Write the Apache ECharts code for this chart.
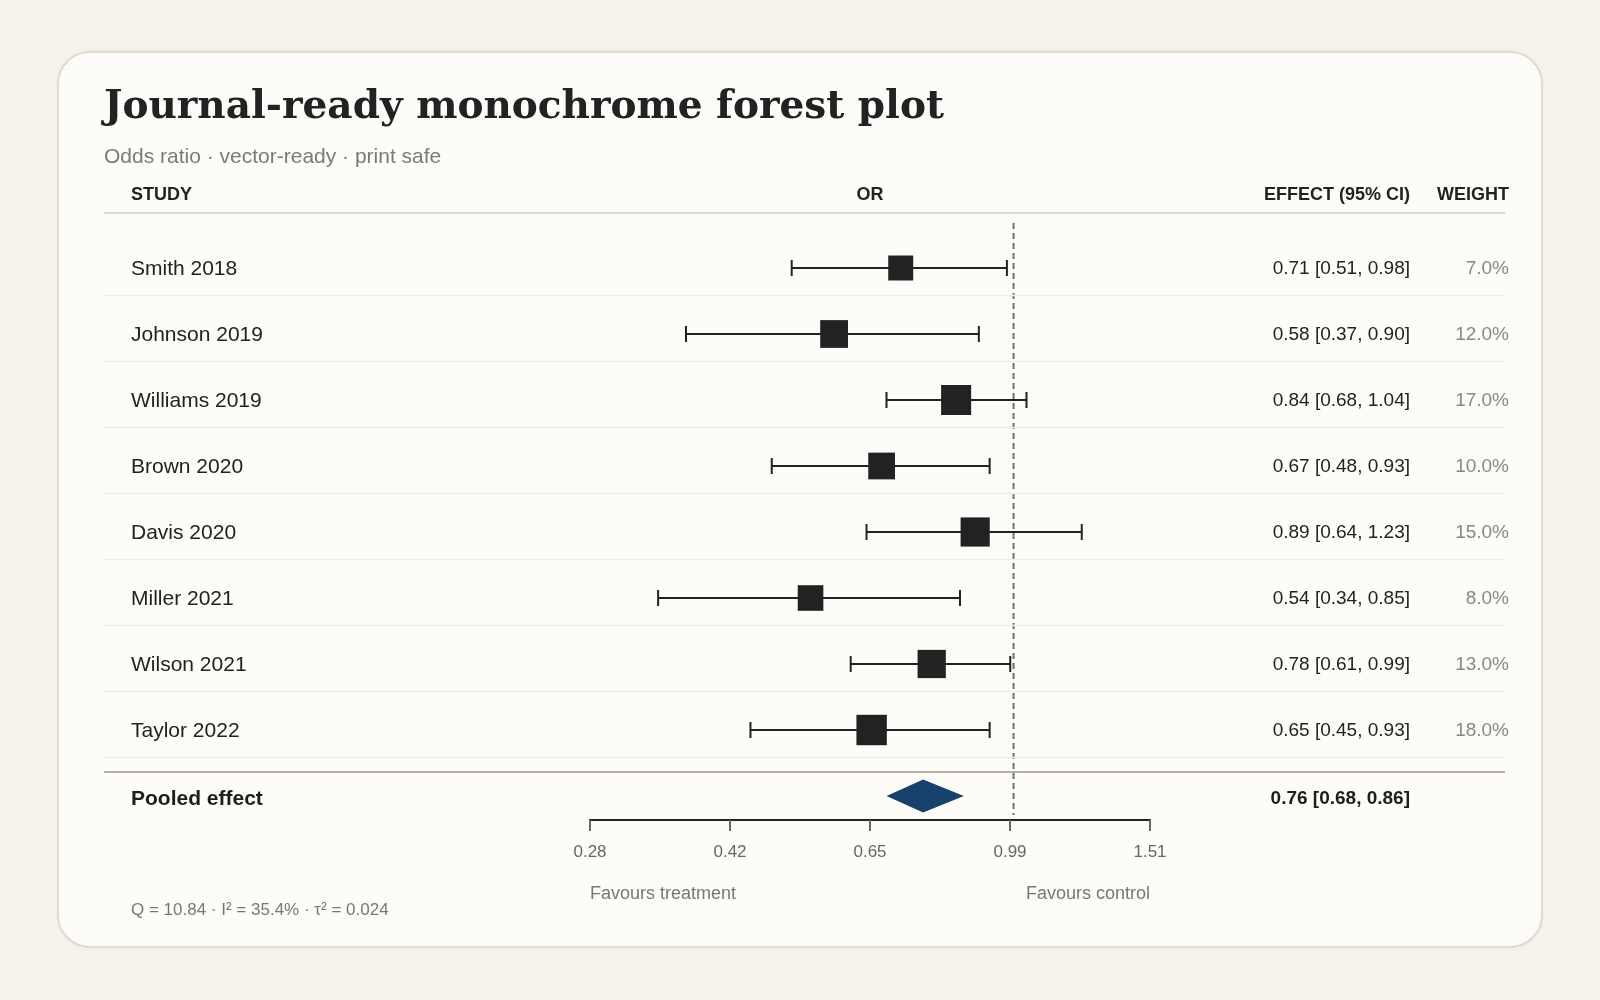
<!DOCTYPE html>
<html lang="en">
<head>
<meta charset="UTF-8">
<title>Forest plot</title>
<script src="https://cdn.jsdelivr.net/npm/echarts@6/dist/echarts.min.js"></script>
<style>
  html, body { margin: 0; padding: 0; background: #f6f3eb; }
  #chart { width: 1600px; height: 1000px; }
</style>
</head>
<body>
<div id="chart"></div>
<script>
// data
var studies = ['Smith 2018', 'Johnson 2019', 'Williams 2019', 'Brown 2020', 'Davis 2020', 'Miller 2021', 'Wilson 2021', 'Taylor 2022'];
var oddsRatio = [0.71, 0.58, 0.84, 0.67, 0.89, 0.54, 0.78, 0.65];
var ciLow = [0.51, 0.37, 0.68, 0.48, 0.64, 0.34, 0.61, 0.45];
var ciHigh = [0.98, 0.90, 1.04, 0.93, 1.23, 0.85, 0.99, 0.93];
var weights = [7.0, 12.0, 17.0, 10.0, 15.0, 8.0, 13.0, 18.0];
var pooled = [0.76, 0.68, 0.86]; // estimate, low, high
var tickLabels = [0.28, 0.42, 0.65, 0.99, 1.51];
var nullValue = 1;
var statsText = 'Q = 10.84 · I² = 35.4% · τ² = 0.024';

// layout
var SANS = '"Liberation Sans", Arial, Helvetica, sans-serif';
var ROW0 = 268, ROWH = 66;
var GRID_TOP = 223, GRID_BOTTOM = 820;
var LEFT = 590, RIGHT = 1150;
var COL_NAME = 131, COL_EFFECT = 1410, COL_WEIGHT = 1509;
var LINE_L = 104, LINE_R = 1505;

// log-scale axis: work in ln(OR)
var xMin = Math.log(0.2765), xMax = Math.log(1.513);
var tickPos = [0, 1, 2, 3, 4].map(function (k) { return xMin + k * (xMax - xMin) / 4; });
var yMin = (GRID_TOP - ROW0) / ROWH;
var yMax = (GRID_BOTTOM - ROW0) / ROWH;

function fmt(v) { return v.toFixed(2); }
function nearestTick(v) {
  var best = tickLabels[0];
  tickLabels.forEach(function (t) {
    if (Math.abs(Math.log(t) - v) < Math.abs(Math.log(best) - v)) best = t;
  });
  return best.toFixed(2);
}

var rows = studies.map(function (s, i) {
  return [i, Math.log(oddsRatio[i]), Math.log(ciLow[i]), Math.log(ciHigh[i]), weights[i]];
});

var chart = echarts.init(document.getElementById('chart'));

var option = {
  animation: false,
  grid: { left: LEFT, top: GRID_TOP, width: RIGHT - LEFT, height: GRID_BOTTOM - GRID_TOP },
  xAxis: {
    type: 'value',
    position: 'bottom',
    min: xMin,
    max: xMax,
    splitLine: { show: false },
    axisLine: { show: true, onZero: false, lineStyle: { color: '#222', width: 2 } },
    axisTick: { show: true, customValues: tickPos, length: 11, lineStyle: { color: '#666', width: 2 } },
    axisLabel: {
      customValues: tickPos,
      margin: 24,
      color: '#666',
      fontSize: 17,
      fontFamily: SANS,
      formatter: function (v) { return nearestTick(v); }
    }
  },
  yAxis: { type: 'value', inverse: true, min: yMin, max: yMax, show: false, axisLine: { onZero: false } },
  graphic: [
    { type: 'rect', z: -10, shape: { x: 58, y: 52, width: 1484, height: 895, r: 32 },
      style: { fill: '#fdfcf9', stroke: '#d9d5ca', lineWidth: 1.5, shadowBlur: 6, shadowColor: 'rgba(0,0,0,0.05)' } },
    { type: 'text', x: 104, y: 108, style: { text: 'Journal-ready monochrome forest plot', font: 'bold 39px "DejaVu Serif", Georgia, serif', fill: '#222', align: 'left', verticalAlign: 'middle' } },
    { type: 'text', x: 104, y: 157, style: { text: 'Odds ratio · vector-ready · print safe', font: '21px ' + SANS, fill: '#7a7a7a', align: 'left', verticalAlign: 'middle' } },
    { type: 'text', x: COL_NAME, y: 195, style: { text: 'STUDY', font: 'bold 18px ' + SANS, fill: '#222', align: 'left', verticalAlign: 'middle' } },
    { type: 'text', x: (LEFT + RIGHT) / 2, y: 195, style: { text: 'OR', font: 'bold 18px ' + SANS, fill: '#222', align: 'center', verticalAlign: 'middle' } },
    { type: 'text', x: COL_EFFECT, y: 195, style: { text: 'EFFECT (95% CI)', font: 'bold 18px ' + SANS, fill: '#222', align: 'right', verticalAlign: 'middle' } },
    { type: 'text', x: COL_WEIGHT, y: 195, style: { text: 'WEIGHT', font: 'bold 18px ' + SANS, fill: '#222', align: 'right', verticalAlign: 'middle' } },
    { type: 'line', shape: { x1: LINE_L, y1: 213, x2: LINE_R, y2: 213 }, style: { stroke: '#dcdad4', lineWidth: 2 } },
    { type: 'line', shape: { x1: LINE_L, y1: 772, x2: LINE_R, y2: 772 }, style: { stroke: '#b3b1aa', lineWidth: 2 } },
    { type: 'text', x: LEFT, y: 894, style: { text: 'Favours treatment', font: '18px ' + SANS, fill: '#777', align: 'left', verticalAlign: 'middle' } },
    { type: 'text', x: RIGHT, y: 894, style: { text: 'Favours control', font: '18px ' + SANS, fill: '#777', align: 'right', verticalAlign: 'middle' } },
    { type: 'text', x: COL_NAME, y: 910, style: { text: statsText, font: '17px ' + SANS, fill: '#777', align: 'left', verticalAlign: 'middle' } }
  ],
  series: [
    {
      // null line at OR = 1
      type: 'line',
      data: [[Math.log(nullValue), yMin], [Math.log(nullValue), (815 - ROW0) / ROWH]],
      symbol: 'none',
      silent: true,
      z: 1,
      lineStyle: { color: '#707070', width: 2, type: [6, 4] }
    },
    {
      type: 'custom',
      name: 'studies',
      data: rows,
      z: 3,
      renderItem: function (params, api) {
        var i = api.value(0);
        var est = api.coord([api.value(1), i]);
        var lo = api.coord([api.value(2), i]);
        var hi = api.coord([api.value(3), i]);
        var w = api.value(4);
        var size = 16 + 3.4 * Math.sqrt(w);
        var y = est[1];
        var cap = 8;
        var ink = '#222';
        return {
          type: 'group',
          children: [
            { type: 'line', shape: { x1: LINE_L, y1: y + 27.5, x2: LINE_R, y2: y + 27.5 }, style: { stroke: '#efede8', lineWidth: 1.5 } },
            { type: 'line', shape: { x1: lo[0], y1: y, x2: hi[0], y2: y }, style: { stroke: ink, lineWidth: 2 } },
            { type: 'line', shape: { x1: lo[0], y1: y - cap, x2: lo[0], y2: y + cap }, style: { stroke: ink, lineWidth: 2 } },
            { type: 'line', shape: { x1: hi[0], y1: y - cap, x2: hi[0], y2: y + cap }, style: { stroke: ink, lineWidth: 2 } },
            { type: 'rect', shape: { x: est[0] - size / 2, y: y - size / 2, width: size, height: size }, style: { fill: ink } },
            { type: 'text', style: { text: studies[i], x: COL_NAME, y: y + 1, font: '21px ' + SANS, fill: '#222', align: 'left', verticalAlign: 'middle' } },
            { type: 'text', style: { text: fmt(oddsRatio[i]) + ' [' + fmt(ciLow[i]) + ', ' + fmt(ciHigh[i]) + ']', x: COL_EFFECT, y: y + 1, font: '19px ' + SANS, fill: '#222', align: 'right', verticalAlign: 'middle' } },
            { type: 'text', style: { text: w.toFixed(1) + '%', x: COL_WEIGHT, y: y + 1, font: '19px ' + SANS, fill: '#888', align: 'right', verticalAlign: 'middle' } }
          ]
        };
      }
    },
    {
      type: 'custom',
      name: 'pooled',
      data: [[studies.length, Math.log(pooled[0]), Math.log(pooled[1]), Math.log(pooled[2])]],
      z: 3,
      renderItem: function (params, api) {
        var i = api.value(0);
        var est = api.coord([api.value(1), i]);
        var lo = api.coord([api.value(2), i]);
        var hi = api.coord([api.value(3), i]);
        var y = est[1];
        var h = 16.5;
        return {
          type: 'group',
          children: [
            { type: 'polygon', shape: { points: [[lo[0], y], [est[0], y - h], [hi[0], y], [est[0], y + h]] }, style: { fill: '#17426e' } },
            { type: 'text', style: { text: 'Pooled effect', x: COL_NAME, y: y + 3, font: 'bold 21px ' + SANS, fill: '#1d1d1d', align: 'left', verticalAlign: 'middle' } },
            { type: 'text', style: { text: fmt(pooled[0]) + ' [' + fmt(pooled[1]) + ', ' + fmt(pooled[2]) + ']', x: COL_EFFECT, y: y + 3, font: 'bold 19px ' + SANS, fill: '#1d1d1d', align: 'right', verticalAlign: 'middle' } }
          ]
        };
      }
    }
  ]
};

chart.setOption(option);
</script>
</body>
</html>
